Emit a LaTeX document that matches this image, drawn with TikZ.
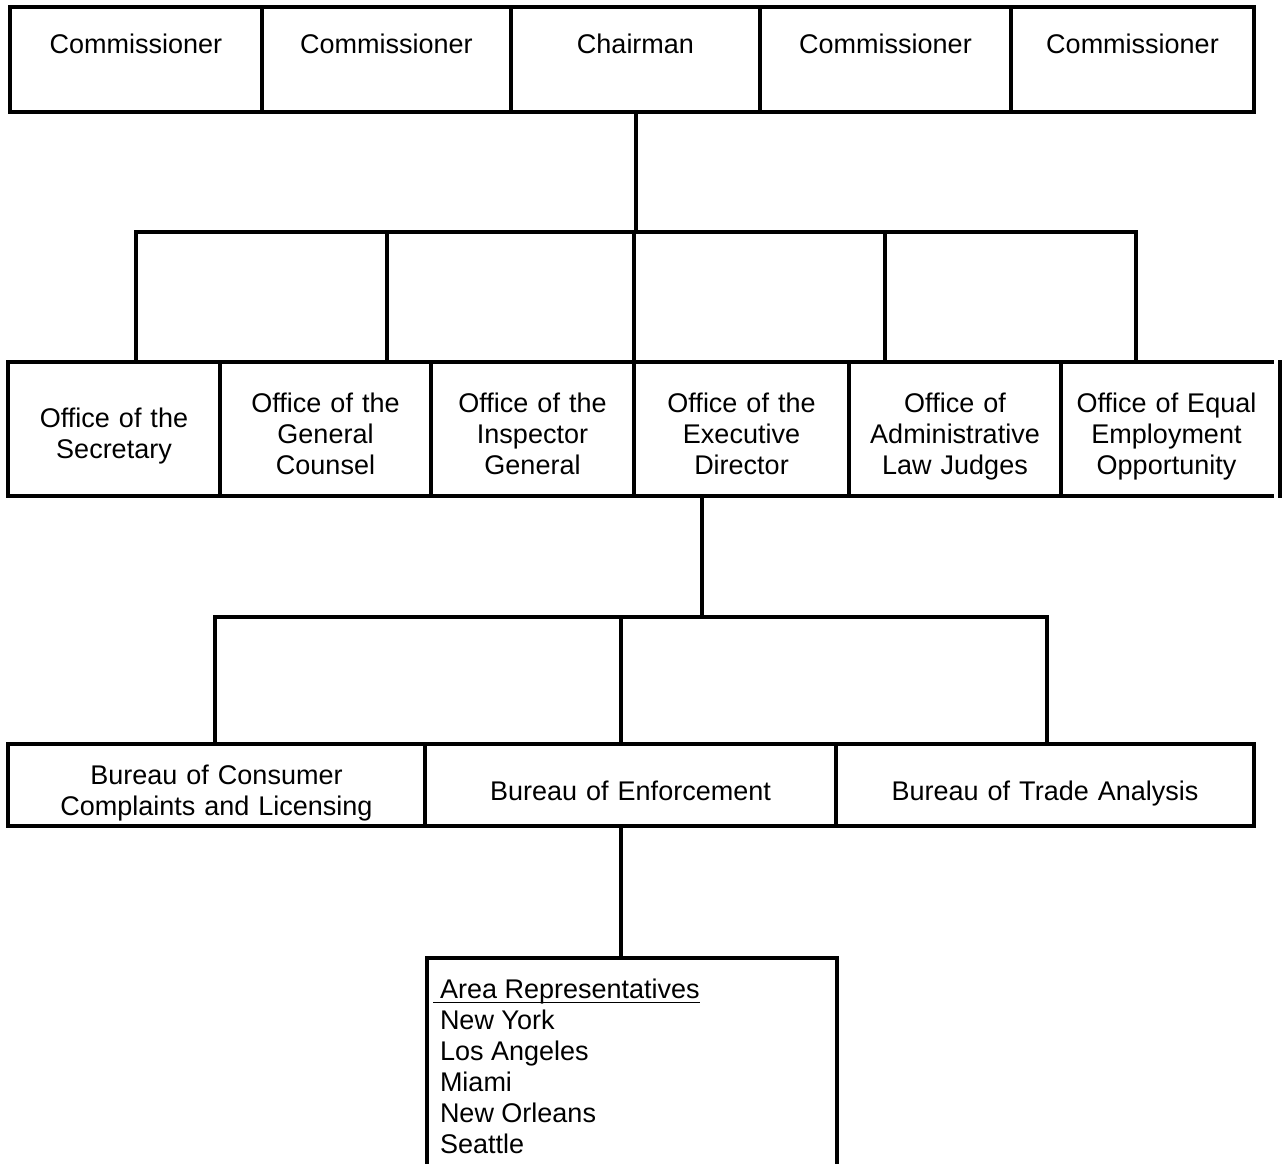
\documentclass[tikz,border=0pt]{standalone}
\usepackage{amsmath}
\usepackage{fontspec}
\setmainfont{Liberation Sans}
\usepackage{tikz}
\usetikzlibrary{calc,positioning}

\begin{document}
\begin{tikzpicture}[
    x=1pt, y=-1pt,
    line cap=rect,
    %styles
    org line/.style={line width=4pt},
    unit box/.style={draw, org line, inner sep=0pt, outer sep=0pt,
        font=\fontsize{27}{31}\selectfont},
    board box/.style={unit box, minimum height=105pt,
        text height=20pt, text depth=31pt},
    office box/.style={unit box, minimum height=134pt, text width=200pt, align=center,
        execute at begin node={\rule{0pt}{34pt}},
        execute at end node={\rule[-6pt]{0pt}{6pt}}},
    bureau box/.style={unit box, minimum height=82pt, text width=400pt, align=center,
        execute at begin node={\rule{0pt}{36pt}},
        execute at end node={\rule[-6pt]{0pt}{6pt}}},
    area list/.style={inner sep=0pt, outer sep=0pt, align=left,
        font=\fontsize{27}{31}\selectfont},
  ]
  \useasboundingbox (0,0) rectangle (1285,1164);

  %the commission
  \node[board box, minimum width=252pt] (com1) at (136,59.5) {Commissioner};
  \node[board box, minimum width=249pt, right=0pt of com1] (com2) {Commissioner};
  \node[board box, minimum width=249pt, right=0pt of com2] (chair) {Chairman};
  \node[board box, minimum width=251pt, right=0pt of chair] (com3) {Commissioner};
  \node[board box, minimum width=243pt, right=0pt of com3] (com4) {Commissioner};

  %offices
  \node[office box, minimum width=212pt] (sec) at (114,429) {Office of the\\Secretary};
  \node[office box, minimum width=211pt, right=0pt of sec] (gc) {Office of the\\General\\Counsel};
  \node[office box, minimum width=203pt, right=0pt of gc] (ig) {Office of the\\Inspector\\General};
  \node[office box, minimum width=215pt, right=0pt of ig] (ed) {Office of the\\Executive\\Director};
  \node[office box, minimum width=212pt, right=0pt of ed] (alj) {Office of\\Administrative\\Law Judges};
  \node[office box, draw=none, minimum width=211pt, right=0pt of alj] (eeo) {Office of Equal\\Employment\\Opportunity};
  \draw[org line] (eeo.north east) -- (eeo.north west) -- (eeo.south west) -- (eeo.south east);
  \draw[org line] ([xshift=8pt]eeo.north east) -- ([xshift=8pt]eeo.south east);

  %bureaus
  \node[bureau box, minimum width=417pt] (bccl) at (216.5,785) {Bureau of Consumer\\Complaints and Licensing};
  \node[bureau box, minimum width=411pt, right=0pt of bccl] (be) {Bureau of Enforcement};
  \node[bureau box, minimum width=418pt, right=0pt of be] (bta) {Bureau of Trade Analysis};

  %area representatives, box open at the bottom
  \node[minimum width=410pt, minimum height=212pt, inner sep=0pt, outer sep=0pt] (area) at (632,1064) {};
  \draw[org line] (area.south west) -- (area.north west) -- (area.north east) -- (area.south east);
  \node[area list, anchor=north west] (reps) at (440,979)
  {\hspace*{-7pt}\underline{\smash[b]{\hspace*{7pt}Area Representatives}}\\
    New York\\
    Los Angeles\\
    Miami\\
    New Orleans\\
    Seattle};

  %chairman to the offices
  \coordinate (top bus) at (634,232);
  \draw[org line] (chair.south) -- (chair.south |- top bus);
  \draw[org line] (136,232) -- (1136,232);
  \foreach \x/\n in {136/sec, 387/gc, 634/ig, 885/alj, 1136/eeo}
  \draw[org line] (\x,232) -- (\x,232 |- \n.north);

  %executive director to the bureaus
  \coordinate (mid bus) at (702,617);
  \draw[org line] (mid bus |- ed.south) -- (mid bus);
  \draw[org line] (215,617) -- (1047,617);
  \foreach \x/\n in {215/bccl, 621/be, 1047/bta}
  \draw[org line] (\x,617) -- (\x,617 |- \n.north);

  %enforcement to the area representatives
  \draw[org line] (621,617 |- be.south) -- (621,617 |- area.north);
\end{tikzpicture}
\end{document}
